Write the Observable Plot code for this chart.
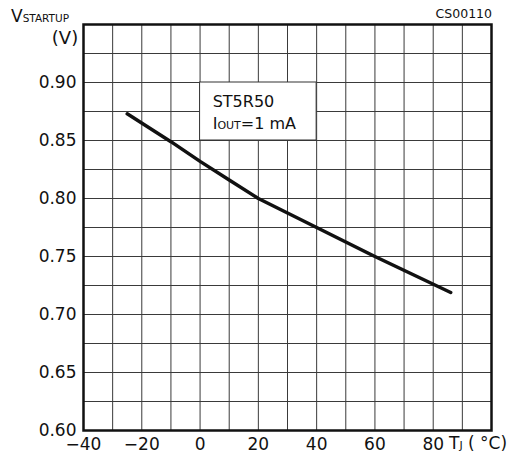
<!DOCTYPE html>
<html><head><meta charset="utf-8">
<script src="https://cdn.jsdelivr.net/npm/d3@7"></script>
<script src="https://cdn.jsdelivr.net/npm/@observablehq/plot@0.6"></script>
<style>body{margin:0;background:#fff}</style>
</head><body><div id="chart"></div>
<script>
// Data
const tempC    = [-25, -10, 0, 10, 20, 40, 60, 86];
const vStartup = [0.873, 0.849, 0.832, 0.816, 0.800, 0.775, 0.750, 0.719];
const xTicks = [-40, -20, 0, 20, 40, 60, 80];
const yTicks = [0.60, 0.65, 0.70, 0.75, 0.80, 0.85, 0.90];
const xGrid = [-40, -30, -20, -10, 0, 10, 20, 30, 40, 50, 60, 70, 80, 90, 100];
const yGrid = [0.600, 0.625, 0.650, 0.675, 0.700, 0.725, 0.750, 0.775, 0.800, 0.825, 0.850, 0.875, 0.900, 0.925, 0.950];
const noteBox = [{x1: 0, x2: 40, y1: 0.85, y2: 0.90}];
const noteLine1 = "ST5R50";
const figureCode = "CS00110";

const font = "'DejaVu Sans', sans-serif";
const data = tempC.map((t, i) => ({t, v: vStartup[i]}));

const plot = Plot.plot({
  width: 515, height: 464,
  marginLeft: 83, marginRight: 24, marginTop: 24, marginBottom: 34,
  style: {fontFamily: font, fontSize: "17px", color: "#111", background: "#fff"},
  x: {domain: [-40, 100], label: null},
  y: {domain: [0.60, 0.95], label: null},
  marks: [
    Plot.gridX(xGrid, {stroke: "#3a3a3a", strokeOpacity: 1, strokeWidth: 1}),
    Plot.gridY(yGrid, {stroke: "#3a3a3a", strokeOpacity: 1, strokeWidth: 1}),
    Plot.rect(noteBox, {x1: "x1", x2: "x2", y1: "y1", y2: "y2", fill: "white", stroke: "#333", strokeWidth: 1}),
    Plot.line(data, {x: "t", y: "v", stroke: "#111", strokeWidth: 3.5}),
    Plot.axisX(xTicks, {tickSize: 0, tickPadding: 7, label: null,
      tickFormat: d => d < 0 ? "\u2212" + (-d) : String(d)}),
    Plot.axisY(yTicks, {tickSize: 0, tickPadding: 7, label: null, tickFormat: d3.format(".2f")}),
    Plot.frame({stroke: "#111", strokeWidth: 2.5})
  ]
});

const svg = d3.select(plot);
const xs = plot.scale("x").apply, ys = plot.scale("y").apply;
const g = svg.append("g").attr("font-family", font).attr("fill", "#111").attr("text-anchor", "start");

// Y axis label: V_STARTUP (V)
const t1 = g.append("text").attr("x", 11).attr("y", 22).attr("font-size", 17);
t1.append("tspan").text("V");
t1.append("tspan").attr("font-size", 10.5).text("STARTUP");
g.append("text").attr("x", 65).attr("y", 44).attr("font-size", 18).attr("text-anchor", "middle").text("(V)");

// Figure code
g.append("text").attr("x", 492).attr("y", 18).attr("font-size", 12.5).attr("text-anchor", "end").text(figureCode);

// X axis label: T_J (°C)
const t2 = g.append("text").attr("x", 449).attr("y", 449).attr("font-size", 17);
t2.append("tspan").text("T");
t2.append("tspan").attr("font-size", 11).text("J");
t2.append("tspan").text(" ( \u00B0C)");

// Note text
g.append("text").attr("x", xs(4.5)).attr("y", ys(0.8785)).attr("font-size", 16).text(noteLine1);
const t3 = g.append("text").attr("x", xs(4.5)).attr("y", ys(0.8595)).attr("font-size", 16);
t3.append("tspan").text("I");
t3.append("tspan").attr("font-size", 11).text("OUT");
t3.append("tspan").text("=1 mA");

document.getElementById("chart").appendChild(plot);
</script>
</body></html>
